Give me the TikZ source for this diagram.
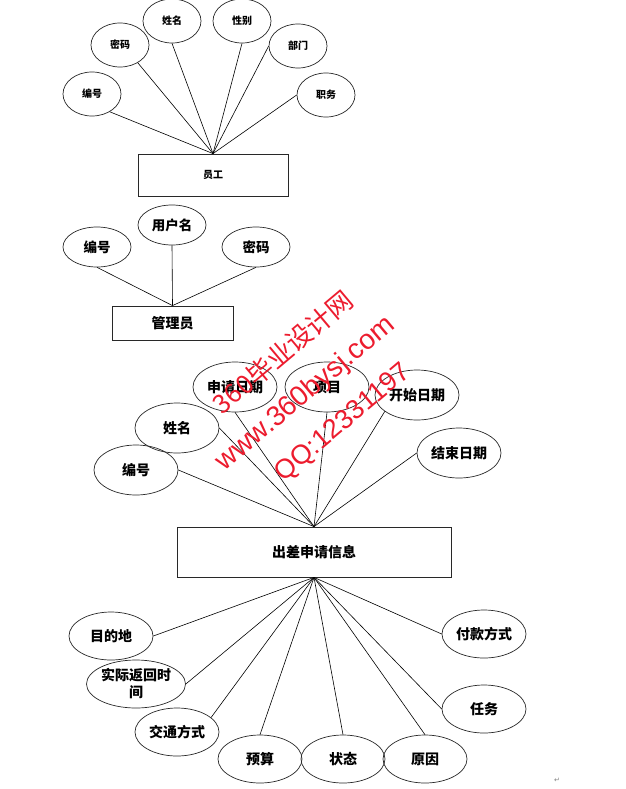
\documentclass[tikz,border=0pt]{standalone}
\usepackage{fontspec}
\newfontfamily\cjk{Noto Sans CJK SC}
\newfontfamily\wmfont{Liberation Sans}
\newfontfamily\symfont{DejaVu Sans}
\usetikzlibrary{shapes.geometric}
\definecolor{wmred}{RGB}{236,28,46}
\definecolor{edgecol}{RGB}{40,40,40}
\begin{document}
\begin{tikzpicture}[x=1pt,y=-1pt,
  attr/.style={ellipse, draw=edgecol, line width=0.7pt, inner sep=0pt, font=\cjk\bfseries\fontsize{14}{17}\selectfont},
  attrA/.style={attr, minimum width=58pt, minimum height=44pt, font=\cjk\bfseries\fontsize{10}{12}\selectfont},
  attrB/.style={attr, minimum width=68pt, minimum height=40pt, font=\cjk\bfseries\fontsize{13.5}{16}\selectfont},
  attrC/.style={attr, minimum width=84pt, minimum height=50pt},
  attrD/.style={attr, minimum width=84pt, minimum height=48pt},
  entity/.style={draw=edgecol, line width=0.8pt, inner sep=0pt},
  link/.style={line width=0.6pt, draw=black},
  wm/.style={text=wmred, rotate=40, inner sep=0pt}
]
\useasboundingbox (0,0) rectangle (625,789);

% ---------- 员工 ----------
\node[entity, minimum width=150pt, minimum height=42pt, font=\cjk\bfseries\fontsize{10}{12}\selectfont] (e1) at (213,175) {员工};
\node[attrA] (a1) at (92,94) {编号};
\node[attrA] (a2) at (120,45) {密码};
\node[attrA] (a3) at (172,21) {姓名};
\node[attrA] (a4) at (242,21) {性别};
\node[attrA] (a5) at (298,46) {部门};
\node[attrA] (a6) at (326,95) {职务};
\draw[link] (e1.north) -- (a1.-45);
\draw[link] (e1.north) -- (a2.-45);
\draw[link] (e1.north) -- (a3.south);
\draw[link] (e1.north) -- (a4.south);
\draw[link] (e1.north) -- (a5.west);
\draw[link] (e1.north) -- (a6.west);

% ---------- 管理员 ----------
\node[entity, minimum width=121pt, minimum height=34pt, font=\cjk\bfseries\fontsize{14}{17}\selectfont] (e2) at (172.5,323) {管理员};
\node[attrB] (b1) at (97,247) {编号};
\node[attrB] (b2) at (172,225) {用户名};
\node[attrB] (b3) at (256,247) {密码};
\draw[link] (e2.north) -- (b1.south);
\draw[link] (e2.north) -- (b2.south);
\draw[link] (e2.north) -- (b3.south);

% ---------- 出差申请信息 ----------
\node[entity, minimum width=274pt, minimum height=50pt, font=\cjk\bfseries\fontsize{14}{17}\selectfont] (e3) at (314,552) {出差申请信息};
\node[attrC] (c1) at (136,470) {编号};
\node[attrC] (c2) at (177,428) {姓名};
\node[attrC] (c3) at (235,387) {申请日期};
\node[attrC] (c4) at (327,387) {项目};
\node[attrC] (c5) at (417,395) {开始日期};
\node[attrC] (c6) at (459,453) {结束日期};
\draw[link] (e3.north) -- (c1.east);
\draw[link] (e3.north) -- (c2.east);
\draw[link] (e3.north) -- (c3.south);
\draw[link] (e3.north) -- (c4.south);
\draw[link] (e3.north) -- (c5.207);
\draw[link] (e3.north) -- (c6.west);

\node[attrD] (d1) at (111,636) {目的地};
\node[attrD, align=center] (d2) at (136,684) {实际返回时\\间};
\node[attrD] (d3) at (177,732) {交通方式};
\node[attrD] (d4) at (260,759) {预算};
\node[attrD] (d5) at (343,759) {状态};
\node[attrD] (d6) at (425,759) {原因};
\node[attrD] (d7) at (484,709) {任务};
\node[attrD] (d8) at (484,634) {付款方式};
\draw[link] (e3.south) -- (d1.east);
\draw[link] (e3.south) -- (d2.east);
\draw[link] (e3.south) -- (d3.23);
\draw[link] (e3.south) -- (d4.north);
\draw[link] (e3.south) -- (d5.north);
\draw[link] (e3.south) -- (d6.north);
\draw[link] (e3.south) -- (d7.west);
\draw[link] (e3.south) -- (d8.west);

% ---------- watermark ----------
\node[wm, font=\cjk\fontsize{26}{26}\selectfont] (w1) at (283,352) {360毕业设计网};
\node[wm, font=\wmfont\fontsize{28}{28}\selectfont] (w2) at (306,394) {www.360bysj.com};
\node[wm, font=\wmfont\fontsize{27}{27}\selectfont] (w3) at (343,423) {QQ:12331197};

\node[font=\symfont\fontsize{7}{7}\selectfont, text=gray] (pm) at (557,780) {↵};
\end{tikzpicture}
\end{document}
